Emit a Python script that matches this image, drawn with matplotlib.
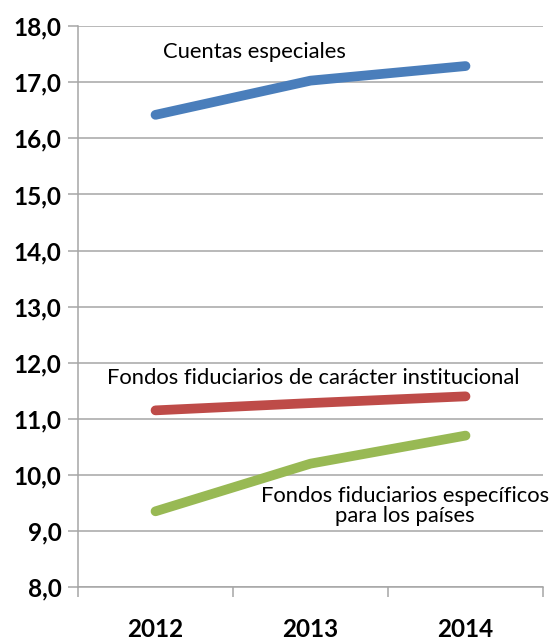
import matplotlib
matplotlib.use("Agg")
import matplotlib.pyplot as plt
from matplotlib.ticker import FuncFormatter, FixedLocator

years = ["2012", "2013", "2014"]
cuentas = [16.42, 17.03, 17.29]
institucional = [11.15, 11.28, 11.40]
especificos = [9.35, 10.20, 10.70]

series_labels = [
    "Cuentas especiales",
    "Fondos fiduciarios de carácter institucional",
    "Fondos fiduciarios específicos\npara los países",
]
colors = ["#4a7ebb", "#be4b48", "#98b954"]

plt.rcParams['font.family'] = ['Lato', 'DejaVu Sans']

fig = plt.figure(figsize=(5.51, 6.40), dpi=100)
ax = fig.add_axes([0.1416, 0.0828, 0.9855 - 0.1416, 0.959 - 0.0828])

x = list(range(len(years)))
for vals, c in zip([cuentas, institucional, especificos], colors):
    ax.plot(x, vals, color=c, linewidth=7, solid_capstyle='round', zorder=3)

ax.set_xlim(-0.5, len(years) - 0.5)
ax.set_ylim(8, 18)
ax.set_yticks([8 + i for i in range(11)])
ax.yaxis.set_major_formatter(FuncFormatter(lambda v, p: f"{v:.1f}".replace(".", ",")))
ax.grid(axis='y', color='#a6a6a6', linewidth=1.1, zorder=0)

ax.set_xticks(x)
ax.set_xticklabels(years)
ax.xaxis.set_minor_locator(FixedLocator([i - 0.5 for i in range(len(years) + 1)]))
ax.tick_params(axis='x', which='major', length=0, pad=22)
ax.tick_params(axis='x', which='minor', length=7, width=1.1, color='#a6a6a6', direction='out')
ax.tick_params(axis='y', length=7, width=1.1, color='#a6a6a6', pad=5)

for lab in ax.get_xticklabels() + ax.get_yticklabels():
    lab.set_fontweight('bold')
    lab.set_fontsize(17.5)

for s in ['top', 'right']:
    ax.spines[s].set_visible(False)
for s in ['left', 'bottom']:
    ax.spines[s].set_color('#a6a6a6')
    ax.spines[s].set_linewidth(1.1)

ax.text(0.05, 17.54, series_labels[0], fontsize=15.8, ha='left', va='center')
ax.text(-0.31, 11.73, series_labels[1], fontsize=15.8, ha='left', va='center')
ax.text(1.61, 9.44, series_labels[2], fontsize=15.8, ha='center', va='center', linespacing=1.0)

fig.savefig("out.png", dpi=100)
